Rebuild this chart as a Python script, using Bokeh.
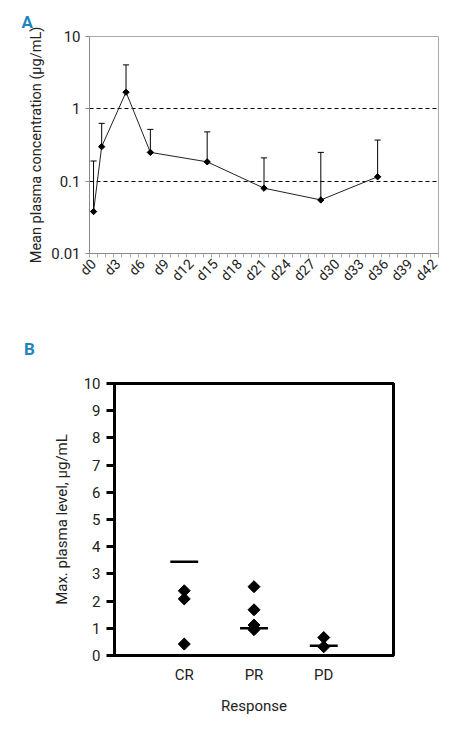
import math
from bokeh.plotting import figure
from bokeh.models import FixedTicker, ColumnDataSource, CustomJSTickFormatter, Div
from bokeh.embed import file_html
from bokeh.resources import INLINE

# ---- Panel A data ----
days = [0, 1, 4, 7, 14, 21, 28, 35]
mean_conc = [0.038, 0.30, 1.70, 0.25, 0.185, 0.08, 0.055, 0.115]
upper_err = [0.19, 0.63, 4.05, 0.52, 0.48, 0.21, 0.25, 0.37]
x_tick_days = list(range(0, 43, 3))
x_tick_labels = ["d%d" % d for d in x_tick_days]
y_ticks_a = [0.01, 0.1, 1, 10]

# ---- Panel B data ----
responses = ["CR", "PR", "PD"]
pts_cr = [2.38, 2.08, 0.42]
pts_pr = [2.53, 1.68, 1.12, 0.95]
pts_pd = [0.66, 0.32]
resp_lines = [3.45, 1.0, 0.36]
y_ticks_b = list(range(0, 11))

FONT = "Roboto"
TXT = "#222222"
BLUE = "#1b86bd"

# ================= Panel A =================
pA = figure(width=472, height=338, y_axis_type="log",
            x_range=(-0.5, 42.5), y_range=(0.01, 10),
            output_backend="svg", toolbar_location=None,
            min_border_left=89, min_border_right=34, min_border_top=36, min_border_bottom=85)
pA.title.text = "A"
pA.title.text_font = "Roboto"
pA.title.text_font_style = "bold"
pA.title.text_font_size = "17px"
pA.title.text_color = BLUE
pA.title.align = "left"
pA.title.offset = -68
pA.outline_line_color = "#aaaaaa"
pA.xgrid.visible = False
pA.ygrid.ticker = FixedTicker(ticks=[0.1, 1])
pA.ygrid.grid_line_color = "black"
pA.ygrid.grid_line_dash = "4 3"
pA.ygrid.grid_line_width = 1

src = ColumnDataSource(dict(x=days, y=mean_conc, up=upper_err,
                            cl=[d - 0.38 for d in days], cr=[d + 0.38 for d in days]))
pA.segment(x0="x", y0="y", x1="x", y1="up", source=src, line_color="black", line_width=1)
pA.segment(x0="cl", y0="up", x1="cr", y1="up", source=src, line_color="black", line_width=1)
pA.line("x", "y", source=src, line_color="#222222", line_width=1)
pA.scatter("x", "y", source=src, marker="square", angle=math.pi / 4, size=4.5,
           fill_color="black", line_color="black")

ya = pA.yaxis[0]
ya.ticker = FixedTicker(ticks=y_ticks_a)
ya.formatter = CustomJSTickFormatter(code="return String(tick);")
ya.minor_tick_line_color = None
ya.major_tick_in = 0
ya.major_tick_out = 4
ya.major_tick_line_color = "#888888"
ya.axis_line_color = "#888888"
ya.major_label_text_font = FONT
ya.major_label_text_font_size = "15px"
ya.major_label_text_color = TXT
ya.major_label_standoff = 5
ya.axis_label = "Mean plasma concentration (\u03bcg/mL)"
ya.axis_label_text_font = FONT
ya.axis_label_text_font_size = "14.5px"
ya.axis_label_text_font_style = "normal"
ya.axis_label_text_color = TXT
ya.axis_label_standoff = 3

xa = pA.xaxis[0]
xa.ticker = FixedTicker(ticks=x_tick_days, minor_ticks=[i - 0.5 for i in range(44)])
xa.major_label_overrides = {t: l for t, l in zip(x_tick_days, x_tick_labels)}
xa.major_tick_line_color = None
xa.major_tick_out = 4
xa.minor_tick_in = 0
xa.minor_tick_out = 4
xa.minor_tick_line_color = "#aaaaaa"
xa.axis_line_color = "#888888"
xa.major_label_orientation = math.pi / 4
xa.major_label_text_font = FONT
xa.major_label_text_font_size = "14px"
xa.major_label_text_color = TXT
xa.major_label_standoff = 4

# ================= Panel B letter =================
divB = Div(text="B", width=120, height=24,
           styles={"color": BLUE, "font-family": "Roboto", "font-weight": "bold",
                   "font-size": "17px", "line-height": "12px", "padding-left": "19px"})

# ================= Panel B =================
pB = figure(width=472, height=358, x_range=(0, 4), y_range=(0, 10),
            output_backend="svg", toolbar_location=None,
            min_border_left=114, min_border_right=79, min_border_top=11, min_border_bottom=75)
pB.outline_line_color = "black"
pB.outline_line_width = 3
pB.grid.visible = False

xs, ys = [], []
for i, vals in enumerate([pts_cr, pts_pr, pts_pd]):
    xs += [i + 1] * len(vals)
    ys += vals
pB.scatter(xs, ys, marker="square", angle=math.pi / 4, size=8.5,
           fill_color="black", line_color="black")
pos = [1, 2, 3]
pB.segment(x0=[p - 0.2 for p in pos], y0=resp_lines, x1=[p + 0.2 for p in pos], y1=resp_lines,
           line_color="black", line_width=2.5)

yb = pB.yaxis[0]
yb.ticker = FixedTicker(ticks=y_ticks_b)
yb.minor_tick_line_color = None
yb.major_tick_in = 0
yb.major_tick_out = 8
yb.major_tick_line_width = 3
yb.major_tick_line_color = "black"
yb.axis_line_width = 3
yb.axis_line_color = "black"
yb.major_label_text_font = FONT
yb.major_label_text_font_size = "15px"
yb.major_label_text_color = TXT
yb.major_label_standoff = 6
yb.axis_label = "Max. plasma level, \u03bcg/mL"
yb.axis_label_text_font = FONT
yb.axis_label_text_font_size = "15px"
yb.axis_label_text_font_style = "normal"
yb.axis_label_text_color = TXT
yb.axis_label_standoff = 10

xb = pB.xaxis[0]
xb.ticker = FixedTicker(ticks=pos)
xb.major_label_overrides = {p: r for p, r in zip(pos, responses)}
xb.major_tick_line_color = None
xb.major_tick_in = 0
xb.major_tick_out = 0
xb.minor_tick_line_color = None
xb.minor_tick_in = 0
xb.minor_tick_out = 0
xb.axis_line_width = 3
xb.axis_line_color = "black"
xb.major_label_text_font = FONT
xb.major_label_text_font_size = "15px"
xb.major_label_text_color = TXT
xb.major_label_standoff = 10
xb.axis_label = "Response"
xb.axis_label_text_font = FONT
xb.axis_label_text_font_size = "15px"
xb.axis_label_text_font_style = "normal"
xb.axis_label_text_color = TXT
xb.axis_label_standoff = 10

open("out.html", "w").write(file_html([pA, divB, pB], INLINE))
